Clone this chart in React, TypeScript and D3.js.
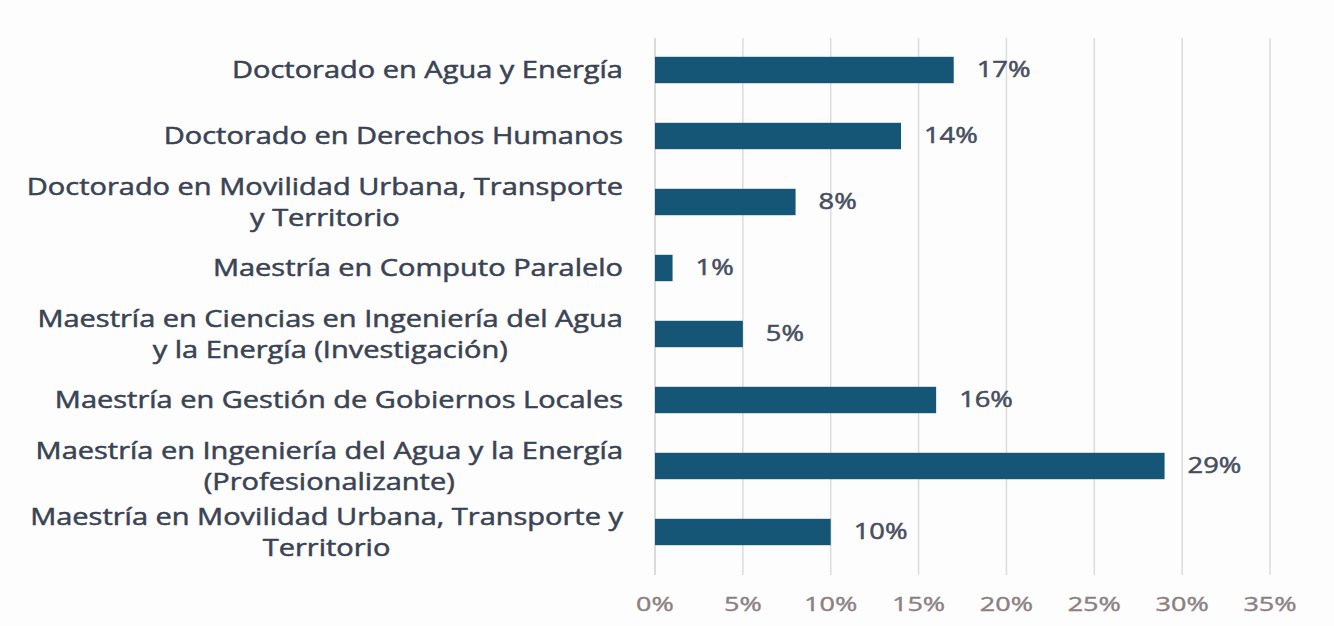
import React, { useEffect, useRef } from "react";
import * as d3 from "d3";

const categories: string[][] = [
  ["Doctorado en Agua y Energía"],
  ["Doctorado en Derechos Humanos"],
  ["Doctorado en Movilidad Urbana, Transporte", "y Territorio"],
  ["Maestría en Computo Paralelo"],
  ["Maestría en Ciencias en Ingeniería del Agua", "y la Energía (Investigación)"],
  ["Maestría en Gestión de Gobiernos Locales"],
  ["Maestría en Ingeniería del Agua y la Energía", "(Profesionalizante)"],
  ["Maestría en Movilidad Urbana, Transporte y", "Territorio"],
];
const values: number[] = [17, 14, 8, 1, 5, 16, 29, 10];
const ticks: number[] = [0, 5, 10, 15, 20, 25, 30, 35];

const W = 1334;
const H = 626;
const FONT = "'Open Sans', sans-serif";

function stretch(sel: d3.Selection<SVGTextElement, any, any, any>, sx: number) {
  sel.each(function () {
    const L = this.getComputedTextLength();
    d3.select(this).attr("textLength", L * sx).attr("lengthAdjust", "spacingAndGlyphs");
  });
}

export default function App() {
  const ref = useRef<SVGSVGElement>(null);
  useEffect(() => {
    const svg = d3.select(ref.current);
    svg.selectAll("*").remove();
    const x = d3.scaleLinear().domain([0, 35]).range([655, 1270]);
    const y = d3
      .scaleBand<number>()
      .domain(d3.range(categories.length))
      .range([37, 565])
      .paddingInner(0.6)
      .paddingOuter(0.3);

    svg.append("rect").attr("width", W).attr("height", H).attr("fill", "#fdfdfd");

    svg
      .append("g")
      .selectAll("line")
      .data(ticks)
      .join("line")
      .attr("x1", (d) => x(d))
      .attr("x2", (d) => x(d))
      .attr("y1", 38)
      .attr("y2", 575)
      .attr("stroke", (d) => (d === 0 ? "#cfcfcf" : "#dcdcdc"))
      .attr("stroke-width", 1.5);

    const tickT = svg
      .append("g")
      .selectAll("text")
      .data(ticks)
      .join("text")
      .attr("x", (d) => x(d))
      .attr("y", 604)
      .attr("dy", "0.35em")
      .attr("text-anchor", "middle")
      .attr("font-family", FONT)
      .attr("font-size", 20)
      .attr("fill", "#8c8082")
      .attr("stroke", "#8c8082")
      .attr("stroke-width", 0.4)
      .text((d) => `${d}%`);
    stretch(tickT as any, 1.35);

    svg
      .append("g")
      .selectAll("rect")
      .data(values)
      .join("rect")
      .attr("x", x(0))
      .attr("y", (_, i) => y(i)!)
      .attr("width", (d) => x(d) - x(0))
      .attr("height", y.bandwidth())
      .attr("fill", "#155677");

    const valT = svg
      .append("g")
      .selectAll("text")
      .data(values)
      .join("text")
      .attr("x", (d) => x(d) + 23)
      .attr("y", (_, i) => y(i)! + y.bandwidth() / 2)
      .attr("dy", "0.35em")
      .attr("font-family", FONT)
      .attr("font-size", 21)
      .attr("fill", "#474e5f")
      .attr("stroke", "#474e5f")
      .attr("stroke-width", 0.5)
      .text((d) => `${d}%`);
    stretch(valT as any, 1.3);

    const labels = svg.append("g");
    const lineH = 31;
    const sx = 1.26;
    categories.forEach((lines, i) => {
      const cy = y(i)! + y.bandwidth() / 2;
      const g = labels.append("g");
      const texts = lines.map((ln, k) =>
        g
          .append("text")
          .attr("y", cy + (k - (lines.length - 1) / 2) * lineH)
          .attr("dy", "0.35em")
          .attr("text-anchor", "middle")
          .attr("font-family", FONT)
          .attr("font-size", 23)
          .attr("fill", "#3a4354")
          .attr("stroke", "#3a4354")
          .attr("stroke-width", 0.5)
          .text(ln)
      );
      const lens = texts.map((t) => (t.node() as SVGTextElement).getComputedTextLength() * sx);
      texts.forEach((t, k) => t.attr("textLength", lens[k]).attr("lengthAdjust", "spacingAndGlyphs"));
      const maxW = d3.max(lens) || 0;
      const cx = 623 - maxW / 2;
      texts.forEach((t) => t.attr("x", cx));
    });
  }, []);
  return <svg ref={ref} width={W} height={H} style={{ display: "block", position: "absolute", left: 0, top: 0 }} />;
}
